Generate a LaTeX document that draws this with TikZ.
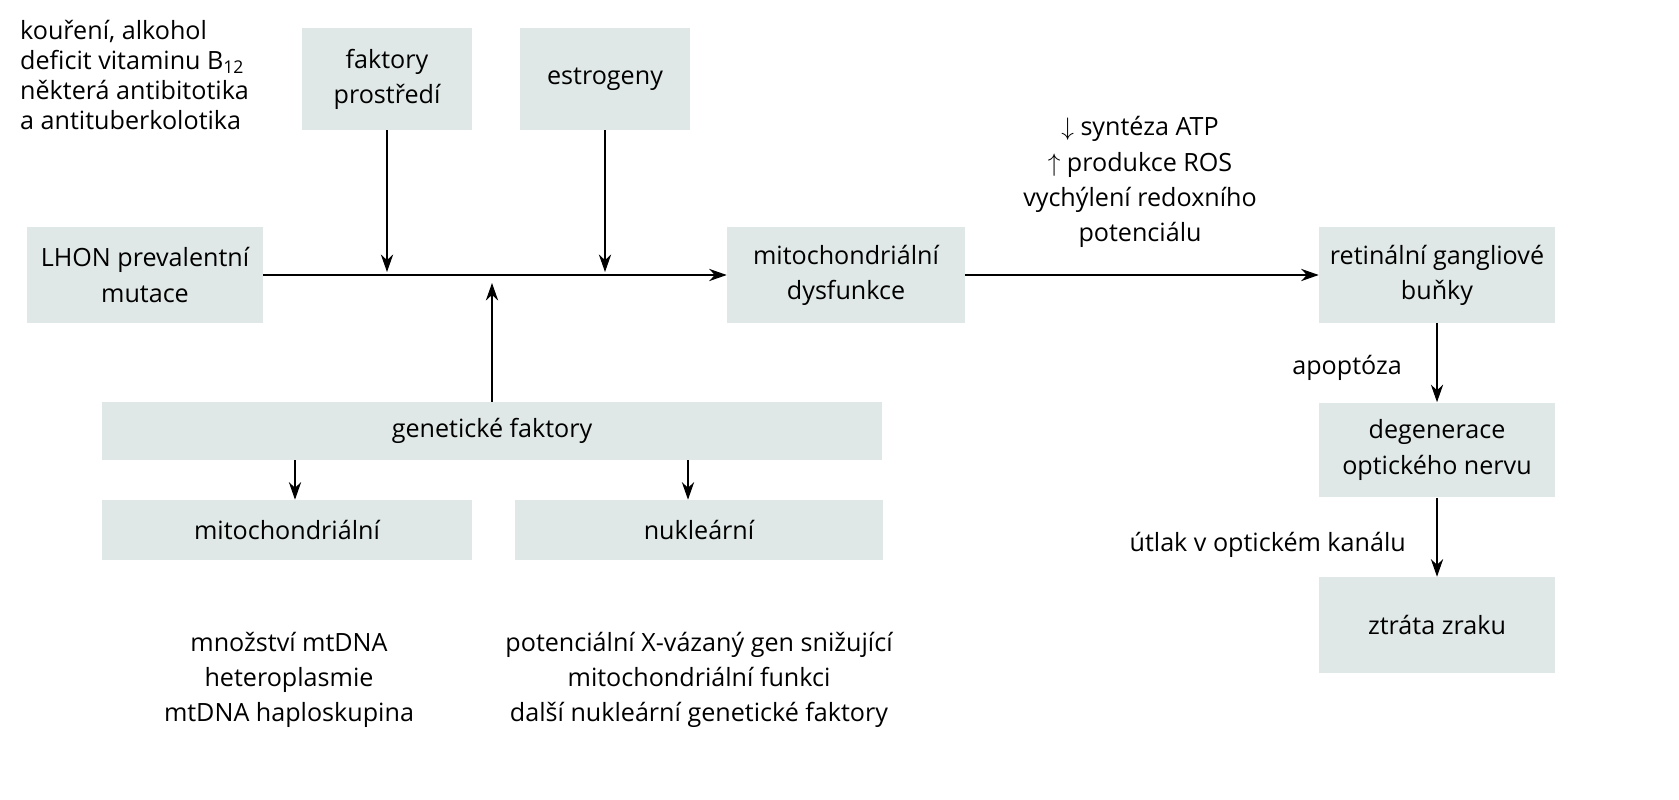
\documentclass[tikz,border=0pt]{standalone}
\usepackage{fontspec}
\setmainfont{Open Sans}
\usetikzlibrary{positioning,arrows.meta}
\definecolor{boxfill}{HTML}{DFE8E6}
\tikzset{
  box/.style={fill=boxfill,align=center,inner sep=0pt},
  note/.style={align=center,font=\fontsize{14.3}{20}\selectfont},
  link/.style={-{Stealth[length=10pt,width=7pt]},semithick}
}
\begin{document}
\begin{tikzpicture}[x=0.02cm,y=-0.02cm,font=\fontsize{14.3}{20}\selectfont]
  \useasboundingbox (0,0) rectangle (1679,800);

  % Boxes
  \node[box,minimum width=4.72cm,minimum height=1.92cm] (lhon) at (145,275) {LHON prevalentní\\mutace};
  \node[box,minimum width=3.42cm,minimum height=2.04cm] (env) at (387,79) {faktory\\prostředí};
  \node[box,minimum width=3.4cm,minimum height=2.04cm] (estro) at (605,79) {estrogeny};
  \node[box,minimum width=4.76cm,minimum height=1.92cm] (dysf) at (846,275) {mitochondriální\\dysfunkce};
  \node[box,minimum width=4.72cm,minimum height=1.92cm] (rgc) at (1437,275) {retinální gangliové\\buňky};
  \node[box,minimum width=15.62cm,minimum height=1.16cm] (gen) at (492,431) {genetické faktory};
  \node[box,minimum width=7.42cm,minimum height=1.2cm] (mito) at (287,530) {mitochondriální};
  \node[box,minimum width=7.36cm,minimum height=1.2cm] (nucl) at (699,530) {nukleární};
  \node[box,minimum width=4.72cm,minimum height=1.9cm] (degen) at (1437,450) {degenerace\\optického nervu};
  \node[box,minimum width=4.72cm,minimum height=1.92cm] (loss) at (1437,625) {ztráta zraku};

  % Texts
  \node[note,align=left,anchor=north west,font=\fontsize{14.3}{17}\selectfont] (risk) at (14,14) {kouření, alkohol\\deficit vitaminu B\textsubscript{12}\\některá antibitotika\\a antituberkolotika};
  \node[note] (atp) at (1140,182) {$\downarrow$ syntéza ATP\\$\uparrow$ produkce ROS\\vychýlení redoxního\\potenciálu};
  \node[note] (mitotxt) at (289,680) {množství mtDNA\\heteroplasmie\\mtDNA haploskupina};
  \node[note] (nucltxt) at (699,680) {potenciální X-vázaný gen snižující\\mitochondriální funkci\\další nukleární genetické faktory};
  \node[note,anchor=east] (apo) at (1408,368) {apoptóza};
  \node[note,anchor=east] (utlak) at (1412,545) {útlak v optickém kanálu};

  % Arrows
  \coordinate (hitA) at (387,272);
  \coordinate (hitB) at (605,272);
  \coordinate (hitC) at (492,283);
  \coordinate (genL) at (295,460);
  \coordinate (genR) at (688,460);
  \draw[link] (lhon) -- (dysf);
  \draw[link] (env) -- (hitA);
  \draw[link] (estro) -- (hitB);
  \draw[link] (gen.north -| hitC) -- (hitC);
  \draw[link] (genL) -- (genL |- mito.north);
  \draw[link] (genR) -- (genR |- nucl.north);
  \draw[link] (dysf) -- (rgc);
  \draw[link] (rgc) -- (degen);
  \draw[link] (degen) -- (loss);
\end{tikzpicture}
\end{document}
